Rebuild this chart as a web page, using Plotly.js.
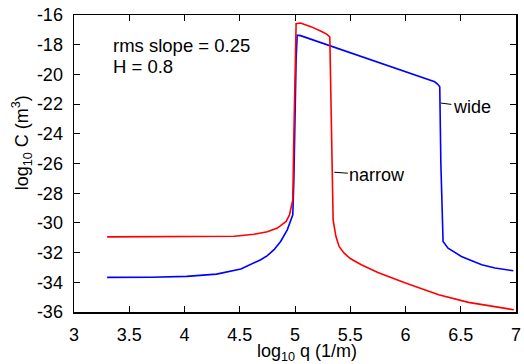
<!DOCTYPE html>
<html>
<head>
<meta charset="utf-8">
<script src="https://cdn.plot.ly/plotly-3.0.1.min.js"></script>
<style>html,body{margin:0;padding:0;background:#fff;}#chart{width:524px;height:364px;}</style>
</head>
<body>
<div id="chart"></div>
<script>
// narrow spectrum (red)
var qNarrow = [3.3, 3.6, 3.9, 4.2, 4.45, 4.63, 4.75, 4.84, 4.92, 4.95, 4.98, 4.99, 5.01, 5.05, 5.15, 5.25, 5.29, 5.315, 5.33, 5.345, 5.37, 5.40, 5.445, 5.5, 5.6, 5.75, 6.0, 6.3, 6.57, 6.98];
var cNarrow = [-30.94, -30.94, -30.94, -30.94, -30.9, -30.76, -30.6, -30.35, -29.9, -29.46, -28.45, -24.0, -16.58, -16.54, -16.8, -17.14, -17.3, -17.48, -24.0, -29.8, -30.9, -31.6, -32.04, -32.4, -32.82, -33.34, -34.05, -34.84, -35.35, -35.85];
// wide spectrum (blue)
var qWide = [3.3, 3.7, 4.02, 4.29, 4.51, 4.63, 4.69, 4.75, 4.81, 4.87, 4.93, 4.98, 4.99, 5.01, 5.02, 5.05, 5.3, 5.6, 5.9, 6.264, 6.29, 6.31, 6.32, 6.34, 6.385, 6.45, 6.506, 6.6, 6.69, 6.81, 6.976];
var cWide = [-33.67, -33.66, -33.6, -33.45, -33.11, -32.7, -32.48, -32.2, -31.8, -31.25, -30.47, -29.46, -27.0, -19.0, -17.36, -17.39, -18.03, -18.8, -19.57, -20.5, -20.65, -20.84, -26.0, -31.25, -31.7, -32.0, -32.26, -32.55, -32.82, -33.04, -33.22];

var xTickVals = [3, 3.5, 4, 4.5, 5, 5.5, 6, 6.5, 7];
var xTickText = ['3', '3.5', '4', '4.5', '5', '5.5', '6', '6.5', '7'];
var yTickVals = [-36, -34, -32, -30, -28, -26, -24, -22, -20, -18, -16];
var yTickText = ['-36', '-34', '-32', '-30', '-28', '-26', '-24', '-22', '-20', '-18', '-16'];

var FONT = 'Liberation Sans, Arial, sans-serif';

var traces = [
  {x: qWide, y: cWide, mode: 'lines', line: {color: '#0000ff', width: 1.6}, name: 'wide', hoverinfo: 'skip'},
  {x: qNarrow, y: cNarrow, mode: 'lines', line: {color: '#ff0000', width: 1.6}, name: 'narrow', hoverinfo: 'skip'}
];

var axisCommon = {
  showgrid: false, zeroline: false, showline: true, linecolor: '#000', linewidth: 1.5,
  mirror: 'ticks', ticks: 'inside', ticklen: 6, tickwidth: 1, tickcolor: '#000',
  tickfont: {family: FONT, size: 18, color: '#000'}, tickmode: 'array'
};

var layout = {
  width: 524, height: 364,
  margin: {l: 74, r: 8, t: 15, b: 52},
  paper_bgcolor: '#fff', plot_bgcolor: '#fff',
  showlegend: false,
  font: {family: FONT, size: 18, color: '#000'},
  xaxis: Object.assign({}, axisCommon, {range: [3, 7], tickvals: xTickVals, ticktext: xTickText, ticklabelstandoff: 6}),
  yaxis: Object.assign({}, axisCommon, {range: [-36, -16], tickvals: yTickVals, ticktext: yTickText, ticklabelstandoff: 6}),
  annotations: [
    {xref: 'x', yref: 'y', x: 3.331, y: -18.02, xanchor: 'left', yanchor: 'middle', text: 'rms slope = 0.25', showarrow: false, font: {family: FONT, size: 18.5}},
    {xref: 'x', yref: 'y', x: 3.331, y: -19.47, xanchor: 'left', yanchor: 'middle', text: 'H = 0.8', showarrow: false, font: {family: FONT, size: 18.5}},
    {xref: 'x', yref: 'y', x: 6.32, y: -21.93, ax: 31, ay: 4, text: 'wide', showarrow: true, arrowhead: 0, arrowwidth: 1, arrowcolor: '#000', font: {family: FONT, size: 18}},
    {xref: 'x', yref: 'y', x: 5.356, y: -26.59, ax: 43, ay: 3, text: 'narrow', showarrow: true, arrowhead: 0, arrowwidth: 1, arrowcolor: '#000', font: {family: FONT, size: 18}},
    {xref: 'paper', yref: 'paper', x: 0.528, y: -0.136, xanchor: 'center', yanchor: 'middle', text: 'log<sub>10</sub> q (1/m)', showarrow: false, font: {family: FONT, size: 18}},
    {xref: 'paper', yref: 'paper', x: -0.118, y: 0.571, xanchor: 'center', yanchor: 'middle', textangle: -90, text: 'log<sub>10</sub> C (m<sup>3</sup>)', showarrow: false, font: {family: FONT, size: 18}}
  ]
};

Plotly.newPlot('chart', traces, layout, {staticPlot: true, displayModeBar: false});
</script>
</body>
</html>
